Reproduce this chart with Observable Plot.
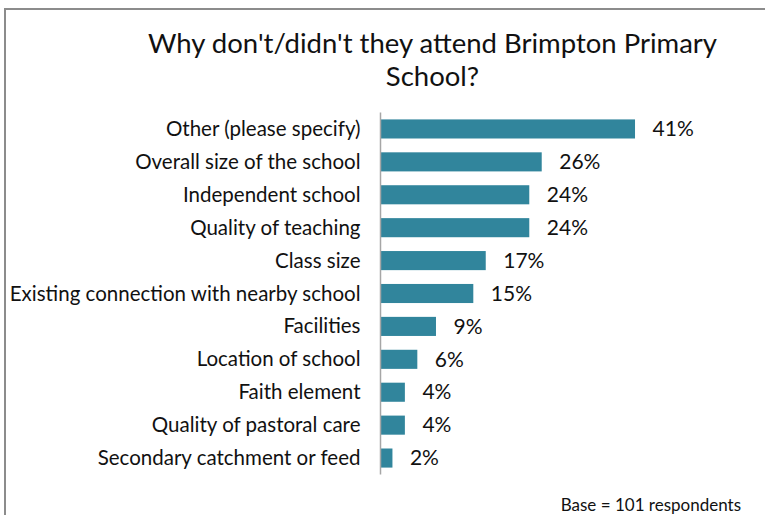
<!DOCTYPE html>
<html>
<head>
<meta charset="utf-8">
<script src="https://cdn.jsdelivr.net/npm/d3@7"></script>
<script src="https://cdn.jsdelivr.net/npm/@observablehq/plot@0.6"></script>
<style>
  html, body { margin: 0; padding: 0; background: #fff; }
  #frame { position: relative; width: 765px; height: 515px; overflow: hidden; font-family: Lato, "Open Sans", sans-serif; }
  #border { position: absolute; left: 4px; top: 8px; width: 800px; height: 600px; border-left: 2px solid #8c8c8c; border-top: 2px solid #8c8c8c; }
  #title { position: absolute; left: 0; top: 26px; width: 865px; text-align: center; font-size: 27.5px; line-height: 33px; color: #111; }
  #chart { position: absolute; left: 0; top: 100px; }
  #caption { position: absolute; right: 24px; top: 494px; font-size: 17px; color: #111; }
</style>
</head>
<body>
<div id="frame">
  <div id="border"></div>
  <div id="title">Why don't/didn't they attend Brimpton Primary<br>School?</div>
  <div id="chart"></div>
  <div id="caption">Base = 101 respondents</div>
</div>
<script>
const categories = [
  "Other (please specify)",
  "Overall size of the school",
  "Independent school",
  "Quality of teaching",
  "Class size",
  "Existing connection with nearby school",
  "Facilities",
  "Location of school",
  "Faith element",
  "Quality of pastoral care",
  "Secondary catchment or feed"
];
const values = [41, 26, 24, 24, 17, 15, 9, 6, 4, 4, 2];
const data = categories.map((c, i) => ({category: c, value: values[i]}));

const chart = Plot.plot({
  width: 765,
  height: 390,
  marginLeft: 380,
  marginRight: 74,
  marginTop: 12.5,
  marginBottom: 15.5,
  style: {fontFamily: "Lato, 'Open Sans', sans-serif", fontSize: "20.5px", color: "#111", background: "transparent"},
  x: {domain: [0, 50], axis: null},
  y: {domain: categories, paddingInner: 0.42, paddingOuter: 0.21, round: false, label: null, tickSize: 0, tickPadding: 20},
  marks: [
    Plot.barX(data, {y: "category", x: "value", fill: "#31859C"}),
    Plot.ruleX([0], {stroke: "#a6a6a6", strokeWidth: 1.5}),
    Plot.text(data, {y: "category", x: "value", text: d => d.value + "%", textAnchor: "start", dx: 17, fontSize: 21, fill: "#111"})
  ]
});
document.getElementById("chart").appendChild(chart);
</script>
</body>
</html>
